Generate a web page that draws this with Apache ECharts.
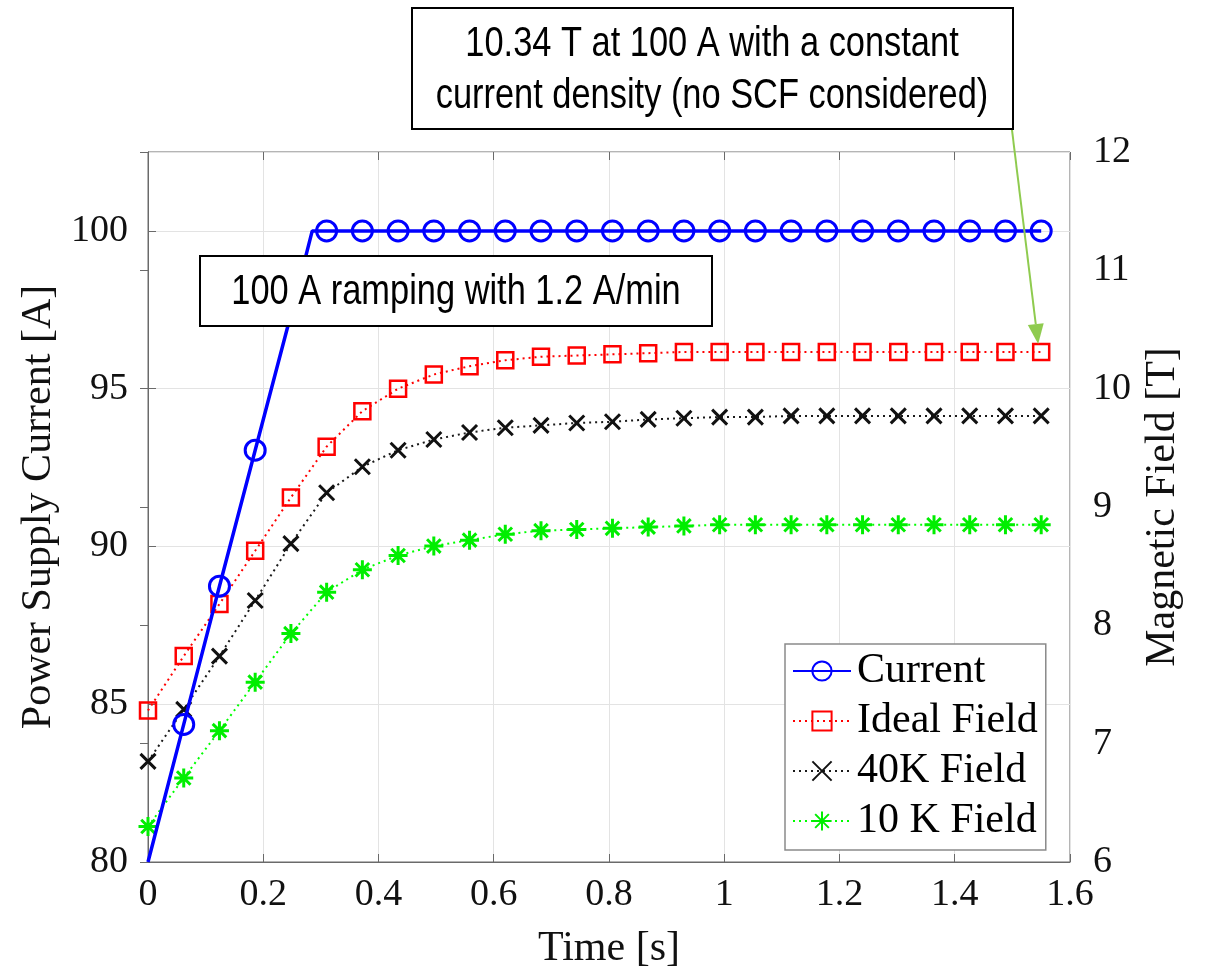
<!DOCTYPE html>
<html>
<head>
<meta charset="utf-8">
<script src="https://cdn.jsdelivr.net/npm/echarts@6/dist/echarts.min.js"></script>
<style>
html,body{margin:0;padding:0;background:#fff;}
#chart{width:1206px;height:975px;}
</style>
</head>
<body>
<div id="chart"></div>
<script>
// ---- data ----
const times = [0, 0.062, 0.124, 0.186, 0.248, 0.31, 0.372, 0.434, 0.496, 0.558, 0.62, 0.682, 0.744,
  0.806, 0.868, 0.93, 0.992, 1.054, 1.116, 1.178, 1.24, 1.302, 1.364, 1.426, 1.488, 1.55];
const currentA = [80, 84.36, 88.74, 93.05, 97.35, 100, 100, 100, 100, 100, 100, 100, 100,
  100, 100, 100, 100, 100, 100, 100, 100, 100, 100, 100, 100, 100];
const rampEnd = [0.285, 100];
const idealField = [7.28, 7.74, 8.18, 8.63, 9.08, 9.51, 9.81, 10.00, 10.12, 10.19, 10.24, 10.27, 10.28,
  10.29, 10.30, 10.31, 10.31, 10.31, 10.31, 10.31, 10.31, 10.31, 10.31, 10.31, 10.31, 10.31];
const field40K = [6.85, 7.29, 7.74, 8.21, 8.69, 9.12, 9.34, 9.48, 9.57, 9.63, 9.67, 9.69, 9.71,
  9.72, 9.74, 9.75, 9.76, 9.76, 9.77, 9.77, 9.77, 9.77, 9.77, 9.77, 9.77, 9.77];
const field10K = [6.30, 6.71, 7.11, 7.52, 7.93, 8.28, 8.47, 8.59, 8.67, 8.72, 8.77, 8.80, 8.81,
  8.82, 8.83, 8.84, 8.85, 8.85, 8.85, 8.85, 8.85, 8.85, 8.85, 8.85, 8.85, 8.85];
const xTicks = [0, 1.6, 0.2];      // min, max, interval
const leftTicks = [80, 102.5, 5];
const rightTicks = [6, 12, 1];
const seriesNames = ['Current', 'Ideal Field', '40K Field', '10 K Field'];
const note1 = '100 A ramping with 1.2 A/min';
const note2 = ['10.34 T at 100 A with a constant', 'current density (no SCF considered)'];
const arrowTarget = [1.55, 10.31];

// ---- build ----
const currentData = [];
times.forEach((t, i) => {
  if (i === 0) currentData.push({ value: [t, currentA[i]], symbol: 'none' });
  else currentData.push([t, currentA[i]]);
  if (t < rampEnd[0] && times[i + 1] > rampEnd[0]) currentData.push({ value: rampEnd.slice(), symbol: 'none' });
});
const pair = arr => times.map((t, i) => [t, arr[i]]);

const SERIF = 'Liberation Serif, Times New Roman, serif';
const SANS = 'Liberation Sans, Arial, sans-serif';
const TXT = '#111';
const AX = '#6a6a6a';
const GRIDC = '#e3e3e3';

const xMark = 'path://M0,0L10,10M10,0L0,10';
const starMark = 'path://M8,0L8,16M0,8L16,8M2.3,2.3L13.7,13.7M13.7,2.3L2.3,13.7';

const chart = echarts.init(document.getElementById('chart'), null, { renderer: 'canvas' });
const option = {
  animation: false,
  backgroundColor: '#fff',
  grid: { left: 148, right: 136, top: 152, bottom: 109, show: true, borderColor: AX, borderWidth: 1, backgroundColor: 'transparent' },
  xAxis: [{
    type: 'value', min: xTicks[0], max: xTicks[1], interval: xTicks[2],
    name: 'Time [s]', nameLocation: 'middle', nameGap: 66,
    nameTextStyle: { fontFamily: SERIF, fontSize: 42, color: TXT },
    axisLine: { show: true, lineStyle: { color: AX, width: 1 } },
    axisTick: { show: true, inside: true, length: 8, lineStyle: { color: AX } },
    axisLabel: { fontFamily: SERIF, fontSize: 38, color: TXT, margin: 14,
      formatter: v => String(Math.round(v * 10) / 10) },
    splitLine: { show: true, lineStyle: { color: GRIDC, width: 1 } }
  }, {
    type: 'value', position: 'top', min: xTicks[0], max: xTicks[1], interval: xTicks[2],
    axisLine: { show: false }, axisLabel: { show: false }, splitLine: { show: false },
    axisTick: { show: true, inside: true, length: 8, lineStyle: { color: AX } }
  }],
  yAxis: [{
    type: 'value', min: leftTicks[0], max: leftTicks[1], interval: leftTicks[2], position: 'left',
    name: 'Power Supply Current [A]', nameLocation: 'middle', nameGap: 80,
    nameTextStyle: { fontFamily: SERIF, fontSize: 42, color: TXT },
    axisLine: { show: true, lineStyle: { color: AX, width: 1 } },
    axisTick: { show: true, inside: true, length: 8, lineStyle: { color: AX } },
    axisLabel: { fontFamily: SERIF, fontSize: 38, color: TXT, margin: 20, showMaxLabel: false,
      formatter: v => (v % 5 === 0 ? String(v) : '') },
    splitLine: { show: true, lineStyle: { color: GRIDC, width: 1 } }
  }, {
    type: 'value', min: rightTicks[0], max: rightTicks[1], interval: rightTicks[2], position: 'right',
    name: 'Magnetic Field [T]', nameLocation: 'middle', nameGap: 72, nameRotate: 90,
    nameTextStyle: { fontFamily: SERIF, fontSize: 42, color: TXT },
    axisLine: { show: true, lineStyle: { color: AX, width: 1 } },
    axisTick: { show: true, inside: true, length: 8, lineStyle: { color: AX } },
    axisLabel: { fontFamily: SERIF, fontSize: 38, color: TXT, margin: 23 },
    splitLine: { show: false }
  }],
  legend: {
    orient: 'vertical', left: 785, top: 644, width: 268,
    padding: [5, 8, 7, 7], itemGap: 6, itemWidth: 58, itemHeight: 24,
    backgroundColor: '#fff', borderColor: '#8a8a8a', borderWidth: 1.5,
    textStyle: { fontFamily: SERIF, fontSize: 42, color: '#000', lineHeight: 44, padding: [0, 0, 0, 1] },
    data: seriesNames
  },
  series: [{
    name: seriesNames[0], type: 'line', xAxisIndex: 0, yAxisIndex: 0, data: currentData,
    symbol: 'circle', symbolSize: 20, showAllSymbol: true, z: 3,
    lineStyle: { color: '#0000ff', width: 3.5 },
    itemStyle: { color: 'rgba(255,255,255,0)', borderColor: '#0000ff', borderWidth: 3 }
  }, {
    name: seriesNames[1], type: 'line', xAxisIndex: 0, yAxisIndex: 1, data: pair(idealField),
    symbol: 'rect', symbolSize: 16, showAllSymbol: true, z: 2,
    lineStyle: { color: '#ff0000', width: 2, type: [2, 4] },
    itemStyle: { color: 'rgba(255,255,255,0)', borderColor: '#ff0000', borderWidth: 2.5 }
  }, {
    name: seriesNames[2], type: 'line', xAxisIndex: 0, yAxisIndex: 1, data: pair(field40K),
    symbol: xMark, symbolSize: 15, showAllSymbol: true, z: 2,
    lineStyle: { color: '#1a1a1a', width: 2, type: [2, 4] },
    itemStyle: { color: 'rgba(0,0,0,0)', borderColor: '#111', borderWidth: 3 }
  }, {
    name: seriesNames[3], type: 'line', xAxisIndex: 0, yAxisIndex: 1, data: pair(field10K),
    symbol: starMark, symbolSize: 19, showAllSymbol: true, z: 2,
    lineStyle: { color: '#00ff00', width: 2, type: [2, 4] },
    itemStyle: { color: 'rgba(0,0,0,0)', borderColor: '#00ee00', borderWidth: 3 }
  }]
};
chart.setOption(option);

// ---- annotations ----
const tip0 = chart.convertToPixel({ seriesIndex: 1 }, arrowTarget);
const tip = [tip0[0] - 3, tip0[1] - 8];
const start = [1012, 130];
const dx = tip[0] - start[0], dy = tip[1] - start[1];
const len = Math.sqrt(dx * dx + dy * dy);
const ux = dx / len, uy = dy / len;
const headL = 20, headW = 8;
const base = [tip[0] - ux * headL, tip[1] - uy * headL];
const head = [tip, [base[0] - uy * headW, base[1] + ux * headW], [base[0] + uy * headW, base[1] - ux * headW]];
const ARW = '#8fcb4f';

chart.setOption({
  graphic: [
    { type: 'rect', z: 100, shape: { x: 200, y: 256, width: 512, height: 70 },
      style: { fill: '#fff', stroke: '#000', lineWidth: 2 } },
    { type: 'text', z: 101, x: 456, y: 292, scaleX: 0.8,
      style: { text: note1, fontFamily: SANS, fontSize: 43, fill: '#000', align: 'center', verticalAlign: 'middle' } },
    { type: 'rect', z: 100, shape: { x: 412, y: 8, width: 601, height: 121 },
      style: { fill: '#fff', stroke: '#000', lineWidth: 2 } },
    { type: 'text', z: 101, x: 712, y: 44, scaleX: 0.8,
      style: { text: note2[0], fontFamily: SANS, fontSize: 43, fill: '#000', align: 'center', verticalAlign: 'middle' } },
    { type: 'text', z: 101, x: 712, y: 96, scaleX: 0.8,
      style: { text: note2[1], fontFamily: SANS, fontSize: 43, fill: '#000', align: 'center', verticalAlign: 'middle' } },
    { type: 'line', z: 102, shape: { x1: start[0], y1: start[1], x2: base[0], y2: base[1] },
      style: { stroke: ARW, lineWidth: 2 } },
    { type: 'polygon', z: 102, shape: { points: head }, style: { fill: ARW } }
  ]
});
</script>
</body>
</html>
